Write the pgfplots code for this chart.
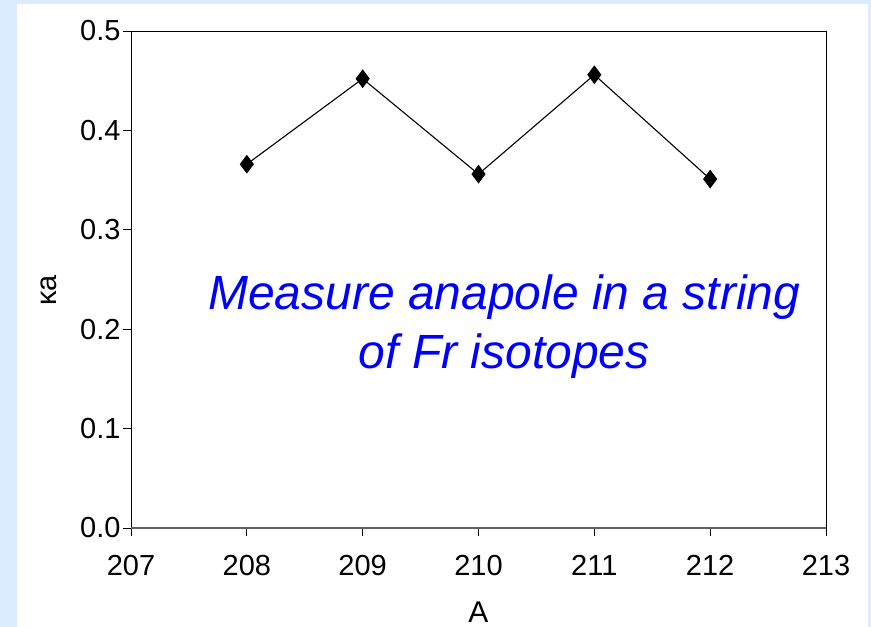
\documentclass[border=0pt]{standalone}
\usepackage{fontspec}
\setmainfont{Liberation Sans}
\usepackage{pgfplots}
\pgfplotsset{compat=1.18}
\definecolor{slidebg}{RGB}{220,235,255}
\definecolor{noteblue}{RGB}{0,0,255}

\pgfplotstableread{
A     ka
208   0.366
209   0.452
210   0.356
211   0.456
212   0.351
}\anapole

\begin{document}
\begin{tikzpicture}
  % slide background and white panel
  \fill[slidebg] (-131bp,-99bp) rectangle (740bp,528bp);
  \fill[white] (-114bp,-99bp) rectangle (737bp,524bp);
  \begin{axis}[
      scale only axis,
      width=695bp, height=497bp,
      at={(0,0)}, anchor=south west,
      xmin=207, xmax=213,
      ymin=0, ymax=0.5,
      xtick={207,...,213},
      ytick={0,0.1,...,0.5},
      yticklabel style={/pgf/number format/fixed, /pgf/number format/fixed zerofill,
        /pgf/number format/precision=1, xshift=1bp},
      /pgf/number format/assume math mode=true,
      tick align=outside,
      major tick length=8bp,
      xtick pos=bottom, ytick pos=left,
      tick style={black, line width=0.8bp},
      axis line style={black, line width=0.9bp},
      tick label style={font=\fontsize{29bp}{34bp}\selectfont},
      xticklabel style={yshift=-16bp},
      xlabel={A},
      ylabel={κa},
      every axis x label/.style={at={(axis description cs:0.5,0)}, anchor=center, yshift=-84bp,
        font=\fontsize{30bp}{34bp}\selectfont},
      every axis y label/.style={at={(axis description cs:0,0.5)}, anchor=center,
        xshift=-82bp, yshift=-11bp, rotate=90, font=\fontsize{29bp}{34bp}\selectfont},
      clip=false,
    ]
    \addplot[black, line width=1.1bp, mark=diamond*, mark size=8.5bp,
      mark options={solid, fill=black}] table[x=A, y=ka] {\anapole};
    \draw[black!62, line width=2.2bp] (rel axis cs:0,0) -- (rel axis cs:1,0);
    \node[noteblue, align=center, inner sep=0pt,
      font=\fontsize{48bp}{59bp}\itshape\selectfont]
      at (rel axis cs:0.537,0.406) {Measure anapole in a string\\of Fr isotopes};
  \end{axis}
  \pgfresetboundingbox
  \useasboundingbox (-131bp,-99bp) rectangle (740bp,528bp);
\end{tikzpicture}
\end{document}
